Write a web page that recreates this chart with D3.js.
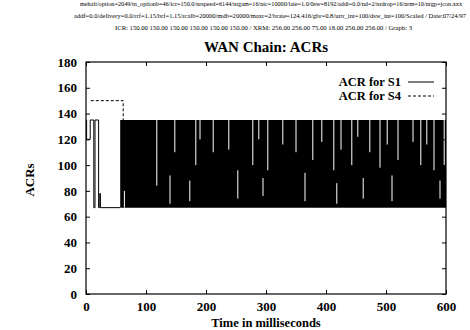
<!DOCTYPE html>
<html>
<head>
<meta charset="utf-8">
<script src="https://cdn.jsdelivr.net/npm/d3@7"></script>
<style>
  body { margin: 0; background: #fff; }
  svg { display: block; font-family: "Liberation Serif", "Times New Roman", serif; }
</style>
</head>
<body>
<svg id="chart" width="470" height="330"></svg>
<script>
// header lines printed by the simulator
const headerLines = [
  "mehalt/option=2049/tn_optionb=46/icr=150.0/nrspeed=6144/nrgam=16/nic=10000/laie=1.0/0sw=8192/addi=0.0/nd=2/nrdrop=16/nrm=10/nrgp=jcon.xxx",
  "addf=0.0/delivery=0.0/rrf=1.15/brf=1.15/rcalb=20000/mdb=20000/maxr=2/brate=124.416/gbr=0.8/urtr_int=100/dsw_int=100/Scaled / Date:07/24/97",
  "ICR: 150.00 150.00 150.00 150.00 150.00 150.00 / XRM: 256.00 256.00 75.00 18.00 256.00 256.00 / Graph: 3"
];

const xTicks = [0, 100, 200, 300, 400, 500, 600];
const yTicks = [0, 20, 40, 60, 80, 100, 120, 140, 160, 180];

// S1 start-up steps (ms, ACR)
const s1Time = [0, 1, 7, 13, 15, 21, 23, 24, 57];
const s1Acr  = [135, 120, 135, 67, 135, 67, 78, 67, 67];

// S4 start-up steps
const s4Time = [8, 62, 62];
const s4Acr  = [150, 150, 135];

// dense oscillation after 57 ms: envelope of the swings
const denseTime = [57, 600];
const denseLow  = [67, 67];
const denseHigh = [135, 135];

// places where the swings do not reach the full range (ms, from, to)
const gapTime = [64, 118, 140, 148, 173, 183, 190, 212, 238, 253, 278, 288, 295, 303, 328, 350, 365, 378, 393, 413, 418, 425, 443, 453, 462, 473, 490, 502, 510, 520, 545, 558, 568, 580, 590, 597];
const gapFrom = [80, 84, 70, 110, 72, 100, 120, 110, 112, 74, 100, 120, 76, 96, 116, 110, 72, 104, 118, 96, 70, 112, 100, 122, 74, 110, 98, 116, 72, 104, 118, 100, 116, 96, 74, 100];
const gapTo   = [67, 135, 92, 135, 88, 135, 135, 135, 135, 96, 135, 135, 90, 135, 135, 135, 94, 135, 135, 135, 86, 135, 135, 135, 90, 135, 135, 135, 92, 135, 135, 135, 135, 135, 88, 135];

const svg = d3.select("#chart");
const m = {left: 86, right: 446, top: 62, bottom: 294};

const x = d3.scaleLinear().domain([0, 600]).range([m.left, m.right]);
const y = d3.scaleLinear().domain([0, 180]).range([m.bottom, m.top]);

// header
const headerPos = [[80, 462, 6, 6], [74, 466, 18, 6], [115, 412, 30, 7]];
headerLines.forEach((t, i) => {
  const p = headerPos[i];
  svg.append("text")
    .attr("x", p[0]).attr("y", p[2])
    .attr("font-size", p[3])
    .attr("textLength", p[1] - p[0])
    .attr("lengthAdjust", "spacingAndGlyphs")
    .text(t);
});

svg.append("text")
  .attr("x", 266).attr("y", 52)
  .attr("text-anchor", "middle")
  .attr("font-size", 15).attr("font-weight", "bold")
  .text("WAN Chain: ACRs");

// data
const s1 = s1Time.map((t, i) => ({t: t, v: s1Acr[i]}));
const s4 = s4Time.map((t, i) => ({t: t, v: s4Acr[i]}));
const dense = denseTime.map((t, i) => ({t: t, lo: denseLow[i], hi: denseHigh[i]}));

const line = d3.line().curve(d3.curveStepAfter).x(d => x(d.t)).y(d => y(d.v));
const area = d3.area().x(d => x(d.t)).y0(d => y(d.lo)).y1(d => y(d.hi));

const plot = svg.append("g");

plot.append("path").datum(dense)
  .attr("d", area).attr("fill", "#000");

plot.selectAll(".gap").data(gapTime).join("line")
  .attr("class", "gap")
  .attr("x1", d => x(d)).attr("x2", d => x(d))
  .attr("y1", (d, i) => y(gapFrom[i])).attr("y2", (d, i) => y(gapTo[i]))
  .attr("stroke", "#fff").attr("stroke-width", 1);

plot.append("path").datum(s1)
  .attr("d", line).attr("fill", "none")
  .attr("stroke", "#000").attr("stroke-width", 1);

plot.append("path").datum(s4)
  .attr("d", line).attr("fill", "none")
  .attr("stroke", "#000").attr("stroke-width", 1)
  .attr("stroke-dasharray", "3,2");

// frame
svg.append("rect")
  .attr("x", m.left).attr("y", m.top)
  .attr("width", m.right - m.left).attr("height", m.bottom - m.top)
  .attr("fill", "none").attr("stroke", "#000").attr("stroke-width", 1.2);

// axes, gnuplot style: ticks inside on all four sides
const tickLen = 4;
svg.append("g").attr("transform", `translate(0,${m.bottom})`)
  .call(d3.axisBottom(x).tickValues(xTicks).tickSize(-tickLen).tickPadding(8));
svg.append("g").attr("transform", `translate(0,${m.top})`)
  .call(d3.axisTop(x).tickValues(xTicks).tickSize(-tickLen).tickFormat(""));
svg.append("g").attr("transform", `translate(${m.left},0)`)
  .call(d3.axisLeft(y).tickValues(yTicks).tickSize(-tickLen).tickPadding(9));
svg.append("g").attr("transform", `translate(${m.right},0)`)
  .call(d3.axisRight(y).tickValues(yTicks).tickSize(-tickLen).tickFormat(""));

svg.selectAll(".domain").remove();
svg.selectAll(".tick line").attr("stroke", "#000");
svg.selectAll(".tick text")
  .attr("fill", "#000")
  .attr("font-family", "Liberation Serif, serif")
  .attr("font-size", 13).attr("font-weight", "bold");

svg.append("text")
  .attr("transform", "translate(34,180) rotate(-90)")
  .attr("text-anchor", "middle")
  .attr("font-size", 13).attr("font-weight", "bold")
  .text("ACRs");

svg.append("text")
  .attr("x", 266).attr("y", 327)
  .attr("text-anchor", "middle")
  .attr("font-size", 12.5).attr("font-weight", "bold")
  .text("Time in milliseconds");

// legend
const legend = [{name: "ACR for S1", dash: null}, {name: "ACR for S4", dash: "3,2"}];
legend.forEach((d, i) => {
  const ly = 82 + i * 14;
  svg.append("text")
    .attr("x", 401).attr("y", ly + 4)
    .attr("text-anchor", "end")
    .attr("font-size", 12.5).attr("font-weight", "bold")
    .text(d.name);
  svg.append("line")
    .attr("x1", 408).attr("x2", 434).attr("y1", ly).attr("y2", ly)
    .attr("stroke", "#000").attr("stroke-width", 1)
    .attr("stroke-dasharray", d.dash);
});
</script>
</body>
</html>
